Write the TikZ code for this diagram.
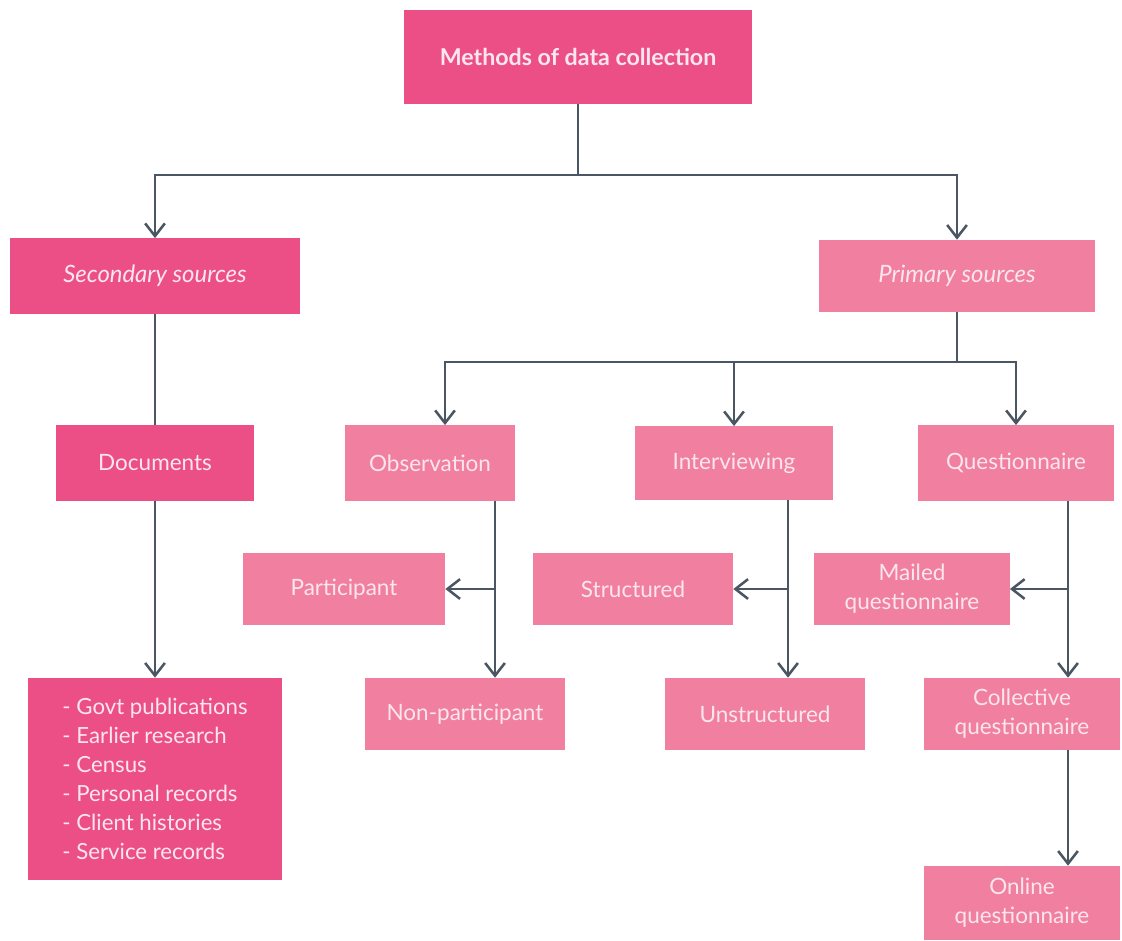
\documentclass[tikz,border=0pt]{standalone}
\usepackage{fontspec}
\setmainfont{Lato}
\usepackage{xcolor}
\usepackage{tikz}
\usetikzlibrary{arrows.meta, positioning}

\definecolor{pinkdark}{HTML}{EC4F86}
\definecolor{pinklight}{HTML}{F17F9F}
\definecolor{boxtext}{HTML}{FCE6EE}
\definecolor{linegray}{HTML}{4B5663}

\begin{document}
\begin{tikzpicture}[
        x=0.025cm, y=-0.025cm,
        every node/.style={font=\fontsize{16}{20.6}\selectfont, text=boxtext},
        darkbox/.style={rectangle, fill=pinkdark, inner sep=0pt, align=center},
        lightbox/.style={rectangle, fill=pinklight, inner sep=0pt, align=center},
        small/.style={minimum width=5cm, minimum height=1.8cm},
        line/.style={draw=linegray, line width=1.8pt},
        arrow/.style={line, -{Straight Barb[length=9pt, width=14pt, line width=1.8pt]}}
        ]
        \useasboundingbox (0,0) rectangle (1122,940);

        % Nodes
        \node [darkbox, minimum width=8.68cm, minimum height=2.33cm, font=\fontsize{16.5}{20}\selectfont\bfseries] (methods) at (578,57) {Methods of data collection};
        \node [darkbox, minimum width=7.25cm, minimum height=1.88cm, font=\fontsize{17}{20}\selectfont\itshape] (secondary) at (155,276) {Secondary sources};
        \node [lightbox, minimum width=6.88cm, minimum height=1.8cm, font=\fontsize{17}{20}\selectfont\itshape] (primary) at (957,276) {Primary sources};
        \node [darkbox, minimum width=4.93cm, minimum height=1.88cm] (documents) at (155,463) {Documents};
        \node [lightbox, minimum width=4.25cm, minimum height=1.88cm] (observation) at (430,463) {Observation};
        \node [lightbox, minimum width=4.95cm, minimum height=1.83cm] (interviewing) at (734,463) {Interviewing};
        \node [lightbox, minimum width=4.9cm, minimum height=1.88cm] (questionnaire) at (1016,463) {Questionnaire};
        \node [lightbox, small, minimum width=5.05cm] (participant) at (344,589) {Participant};
        \node [lightbox, small] (nonpart) at (465,714) {Non-participant};
        \node [lightbox, small] (structured) at (633,589) {Structured};
        \node [lightbox, small] (unstructured) at (765,714) {Unstructured};
        \node [lightbox, small, minimum width=4.88cm] (mailed) at (912,589) {Mailed\\questionnaire};
        \node [lightbox, small, minimum width=4.88cm] (collective) at (1022,714) {Collective\\questionnaire};
        \node [lightbox, small, minimum width=4.88cm, minimum height=1.85cm] (online) at (1022,903) {Online\\questionnaire};
        \node [darkbox, minimum width=6.35cm, minimum height=5.05cm, align=left, font=\fontsize{15.8}{20.6}\selectfont] (sources) at (155,779) {- Govt publications\\- Earlier research\\- Census\\- Personal records\\- Client histories\\- Service records};

        % Branch points
        \coordinate (split1) at (578,175);
        \coordinate (split2) at (957,362);
        \coordinate (obsdown) at ([xshift=1.625cm]observation.south);
        \coordinate (intdown) at ([xshift=1.35cm]interviewing.south);
        \coordinate (quedown) at ([xshift=1.3cm]questionnaire.south);

        % Edges
        \path [line] (methods) -- (split1);
        \path [arrow] (split1) -| (secondary.north);
        \path [arrow] (split1) -| (primary.north);
        \path [line] (secondary) -- (documents);
        \path [arrow] (documents) -- (sources);
        \path [line] (primary) -- (split2);
        \path [arrow] (split2) -| ([xshift=0.375cm]observation.north);
        \path [arrow] (split2) -| (interviewing.north);
        \path [arrow] (split2) -| (questionnaire.north);
        \path [arrow] (obsdown) -- (obsdown |- nonpart.north);
        \path [arrow] (obsdown |- participant) -- (participant.east);
        \path [arrow] (intdown) -- (intdown |- unstructured.north);
        \path [arrow] (intdown |- structured) -- (structured.east);
        \path [arrow] (quedown) -- (quedown |- collective.north);
        \path [arrow] (quedown |- mailed) -- (mailed.east);
        \path [arrow] (quedown |- collective.south) -- (quedown |- online.north);
    \end{tikzpicture}
\end{document}
